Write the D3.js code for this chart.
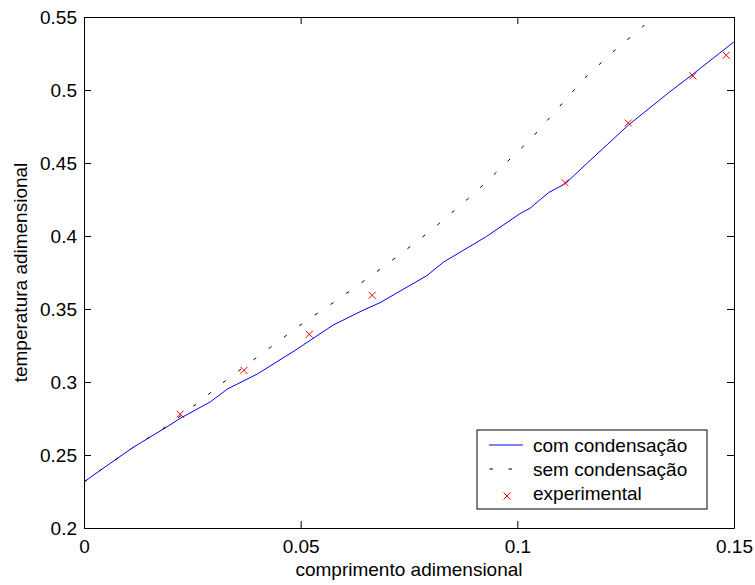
<!DOCTYPE html>
<html>
<head>
<meta charset="utf-8">
<script src="https://cdn.jsdelivr.net/npm/d3@7"></script>
<style>
  body { margin: 0; background: #fff; }
  svg text { font-family: "Liberation Sans", Arial, sans-serif; fill: #000; }
</style>
</head>
<body>
<svg id="chart" width="755" height="585"></svg>
<script>
// values
var xTicks = [0, 0.05, 0.1, 0.15];
var yTicks = [0.2, 0.25, 0.3, 0.35, 0.4, 0.45, 0.5, 0.55];

var comX = [0, 0.00385, 0.01123, 0.01515, 0.019, 0.0222, 0.0292, 0.0331, 0.04, 0.0489, 0.0575, 0.0645, 0.0683, 0.0791, 0.0829, 0.0929, 0.1006, 0.1029, 0.1072, 0.1111, 0.116, 0.1256, 0.1352, 0.1405, 0.15];
var comY = [0.2315, 0.2397, 0.255, 0.2621, 0.269, 0.2751, 0.2865, 0.2952, 0.3055, 0.322, 0.339, 0.3493, 0.3543, 0.3728, 0.382, 0.3997, 0.4153, 0.419, 0.4297, 0.4359, 0.4496, 0.4759, 0.4988, 0.5108, 0.533];

var semX = [0, 0.00385, 0.01123, 0.019, 0.0262, 0.0331, 0.0404, 0.0512, 0.0587, 0.066, 0.0733, 0.0802, 0.0872, 0.0905, 0.1033, 0.1095, 0.1154, 0.122, 0.1289, 0.132];
var semY = [0.2315, 0.2397, 0.255, 0.2695, 0.2855, 0.302, 0.318, 0.3418, 0.3567, 0.3722, 0.3882, 0.4041, 0.4219, 0.4304, 0.467, 0.4879, 0.5078, 0.526, 0.5432, 0.553];

var expX = [0.0222, 0.0369, 0.052, 0.0665, 0.111, 0.1256, 0.1405, 0.1482];
var expY = [0.278, 0.308, 0.3327, 0.3594, 0.4365, 0.4774, 0.5097, 0.5238];

var legendLabels = ["com condensação", "sem condensação", "experimental"];

var fontSize = 19;
var pLeft = 84, pRight = 734, pTop = 17, pBottom = 528;

var svg = d3.select('#chart');

var x = d3.scaleLinear().domain([0, 0.15]).range([pLeft, pRight]);
var y = d3.scaleLinear().domain([0.2, 0.55]).range([pBottom, pTop]);

var fmt = d => String(+d.toFixed(2));

// clip for the lines
svg.append('clipPath').attr('id', 'clip')
    .append('rect')
    .attr('x', pLeft).attr('y', pTop)
    .attr('width', pRight - pLeft).attr('height', pBottom - pTop);

// axes, ticks pointing inward on all four sides
function styleAxis(g) {
    g.selectAll('path, line').attr('stroke', '#000').attr('stroke-width', 1);
    g.selectAll('text').attr('font-size', fontSize).attr('fill', '#000')
        .attr('font-family', '"Liberation Sans", Arial, sans-serif');
}

svg.append('g')
    .attr('transform', `translate(0 ${pBottom})`)
    .call(d3.axisBottom(x).tickValues(xTicks).tickFormat(fmt).tickSizeInner(-7).tickSizeOuter(0).tickPadding(12))
    .call(styleAxis);

svg.append('g')
    .attr('transform', `translate(${pLeft} 0)`)
    .call(d3.axisLeft(y).tickValues(yTicks).tickFormat(fmt).tickSizeInner(-7).tickSizeOuter(0).tickPadding(7))
    .call(styleAxis);

svg.append('g')
    .attr('transform', `translate(0 ${pTop})`)
    .call(d3.axisTop(x).tickValues(xTicks).tickFormat('').tickSizeInner(-7).tickSizeOuter(0))
    .call(styleAxis);

svg.append('g')
    .attr('transform', `translate(${pRight} 0)`)
    .call(d3.axisRight(y).tickValues(yTicks).tickFormat('').tickSizeInner(-7).tickSizeOuter(0))
    .call(styleAxis);

// lines
var line = d3.line()
    .x(d => x(d[0]))
    .y(d => y(d[1]));

var plot = svg.append('g').attr('clip-path', 'url(#clip)');

plot.append('path')
    .datum(d3.zip(comX, comY))
    .attr('d', line)
    .attr('fill', 'none')
    .attr('stroke', '#0000ff')
    .attr('stroke-width', 1);

plot.append('path')
    .datum(d3.zip(semX, semY))
    .attr('d', line)
    .attr('fill', 'none')
    .attr('stroke', '#000')
    .attr('stroke-width', 1)
    .attr('stroke-dasharray', '3.5,15.5');

// experimental markers
function cross(g, s) {
    g.append('path')
        .attr('d', `M${-s},${-s}L${s},${s}M${-s},${s}L${s},${-s}`)
        .attr('stroke', '#ff0000')
        .attr('stroke-width', 1)
        .attr('fill', 'none');
}

svg.append('g').selectAll('g')
    .data(d3.zip(expX, expY))
    .enter()
    .append('g')
    .attr('transform', d => `translate(${x(d[0])} ${y(d[1])})`)
    .each(function() { cross(d3.select(this), 3.5); });

// axis labels
svg.append('text')
    .attr('x', (pLeft + pRight) / 2)
    .attr('y', 576)
    .attr('text-anchor', 'middle')
    .attr('font-size', fontSize)
    .text('comprimento adimensional');

svg.append('text')
    .attr('transform', `translate(27 ${(pTop + pBottom) / 2}) rotate(-90)`)
    .attr('text-anchor', 'middle')
    .attr('font-size', fontSize)
    .text('temperatura adimensional');

// legend
var legend = svg.append('g');

legend.append('rect')
    .attr('x', 477).attr('y', 430)
    .attr('width', 230).attr('height', 79)
    .attr('fill', '#fff')
    .attr('stroke', '#000')
    .attr('stroke-width', 1);

var rows = [445, 469, 493];

legend.append('line')
    .attr('x1', 489).attr('x2', 523)
    .attr('y1', rows[0]).attr('y2', rows[0])
    .attr('stroke', '#0000ff');

legend.append('line')
    .attr('x1', 489).attr('x2', 523)
    .attr('y1', rows[1]).attr('y2', rows[1])
    .attr('stroke', '#000')
    .attr('stroke-dasharray', '3.5,15.5')
    .attr('stroke-dashoffset', -0.5);

legend.append('g')
    .attr('transform', `translate(507 ${rows[2] + 3})`)
    .call(g => cross(g, 3.5));

legend.selectAll('text.lbl')
    .data(legendLabels)
    .enter()
    .append('text')
    .attr('class', 'lbl')
    .attr('x', 533)
    .attr('y', (d, i) => rows[i])
    .attr('dy', '0.35em')
    .attr('font-size', fontSize)
    .text(d => d);
</script>
</body>
</html>
